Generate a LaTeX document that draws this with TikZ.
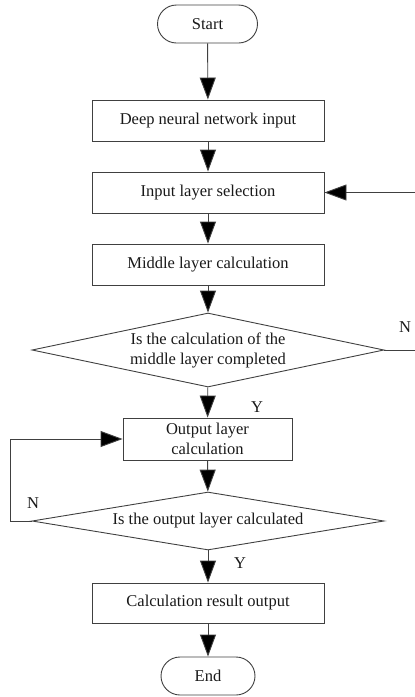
\documentclass[tikz,border=0pt]{standalone}
\usepackage{fontspec}
\setmainfont{Liberation Serif}
\usetikzlibrary{shapes.geometric,arrows.meta}
\begin{document}
\begin{tikzpicture}[x=1pt,y=1pt,
  every node/.style={font=\fontsize{16.5}{20}\selectfont, text=black!90},
  proc/.style={draw=black!75, line width=0.9pt, minimum width=232pt, minimum height=41pt, inner sep=0pt},
  term/.style={draw=black!75, line width=0.9pt, rounded corners=19pt, minimum height=38pt, inner sep=0pt},
  dia/.style={draw=black!75, line width=0.9pt, diamond, inner sep=0pt},
  conn/.style={draw=black!75, line width=0.9pt},
  arr/.style={conn, -{Triangle[length=22pt,width=16pt,fill=black]}},
  lbl/.style={inner sep=0pt}
]
\useasboundingbox (0,0) rectangle (415,-697);
\node[term, minimum width=100pt] (start) at (207.5,-24) {Start};
\node[proc] (b1) at (208,-120.5) {Deep neural network input};
\node[proc] (b2) at (208,-192.5) {Input layer selection};
\node[proc] (b3) at (208,-264.5) {Middle layer calculation};
\node[dia, minimum width=352pt, minimum height=74pt] (d1) at (208,-350) {};
\node[align=center, inner sep=0pt] (d1t) at (208,-350) {Is the calculation of the\\middle layer completed};
\node[proc, minimum width=169pt, minimum height=42pt, align=center] (b4) at (207.5,-439) {Output layer\\calculation};
\node[dia, minimum width=352pt, minimum height=58pt] (d2) at (208,-521) {};
\node[inner sep=0pt] (d2t) at (208,-521) {Is the output layer calculated};
\node[proc, minimum height=40pt] (b5) at (208,-603) {Calculation result output};
\node[term, minimum width=94pt] (end) at (208,-676) {End};

\node[lbl] (y1) at (257,-407) {Y};
\node[lbl] (n1) at (405,-327) {N};
\node[lbl] (n2) at (33,-503) {N};
\node[lbl] (y2) at (240,-563) {Y};

\coordinate (r1) at (415,-350);
\coordinate (r2) at (415,-192.5);
\coordinate (l1) at (10,-521);

\draw[arr] (start) -- (b1);
\draw[arr] (b1) -- (b2);
\draw[arr] (b2) -- (b3);
\draw[arr] (b3) -- (d1);
\draw[arr] (d1) -- (b4);
\draw[arr] (b4) -- (d2);
\draw[arr] (d2) -- (b5);
\draw[arr] (b5) -- (end);
\draw[conn] (d1.east) -- (r1);
\draw[arr] (r2) -- (b2.east);
\draw[arr] (d2.west) -- (l1) |- (b4.west);
\end{tikzpicture}
\end{document}
